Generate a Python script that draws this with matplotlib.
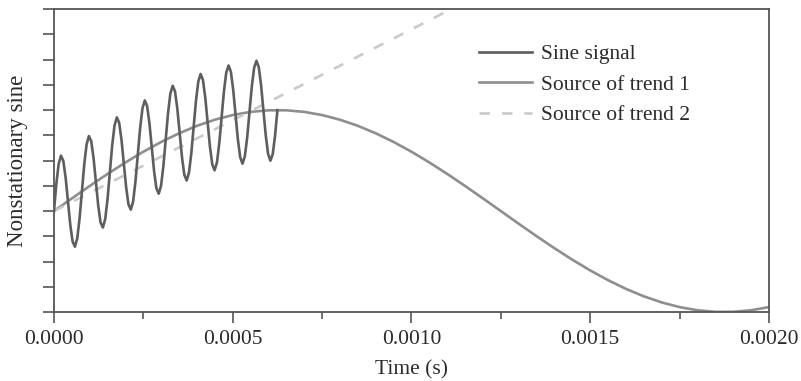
import numpy as np
import matplotlib
matplotlib.use("Agg")
import matplotlib.pyplot as plt
from matplotlib.ticker import MultipleLocator, NullFormatter

# ---- data ----
# Sine signal: 97 samples over 0 .. 0.000625 s
sig_t_start, sig_t_end = 0.0, 0.000625
sine_signal = [
    0.000, 0.266, 0.466, 0.549, 0.498, 0.332, 0.098, -0.136, -0.302, -0.353, -0.270, -0.071,
    0.195, 0.461, 0.660, 0.743, 0.692, 0.525, 0.290, 0.056, -0.112, -0.163, -0.081, 0.118,
    0.383, 0.648, 0.846, 0.928, 0.875, 0.707, 0.471, 0.236, 0.067, 0.014, 0.095, 0.292,
    0.556, 0.819, 1.015, 1.096, 1.042, 0.872, 0.634, 0.397, 0.226, 0.172, 0.251, 0.445,
    0.707, 0.969, 1.163, 1.241, 1.185, 1.013, 0.773, 0.533, 0.360, 0.303, 0.380, 0.572,
    0.831, 1.090, 1.282, 1.358, 1.299, 1.124, 0.882, 0.640, 0.464, 0.404, 0.478, 0.667,
    0.924, 1.180, 1.369, 1.442, 1.380, 1.202, 0.957, 0.712, 0.533, 0.470, 0.541, 0.727,
    0.981, 1.234, 1.420, 1.489, 1.424, 1.243, 0.995, 0.747, 0.565, 0.499, 0.566, 0.750,
    1.000,
]

# Source of trend 1: 41 samples over 0 .. 0.002 s
tr1_t_start, tr1_t_end = 0.0, 0.002
trend1 = [
    0.0, 0.1253, 0.2487, 0.3681, 0.4818, 0.5878, 0.6845, 0.7705, 0.8443, 0.9048,
    0.9511, 0.9823, 0.9980, 0.9980, 0.9823, 0.9511, 0.9048, 0.8443, 0.7705, 0.6845,
    0.5878, 0.4818, 0.3681, 0.2487, 0.1253, 0.0, -0.1253, -0.2487, -0.3681, -0.4818,
    -0.5878, -0.6845, -0.7705, -0.8443, -0.9048, -0.9511, -0.9823, -0.9980, -0.9980,
    -0.9823, -0.9511,
]

# Source of trend 2: straight line
trend2_t = [0.0, 0.002]
trend2 = [0.0, 3.6]

labels = ["Sine signal", "Source of trend 1", "Source of trend 2"]
x_ticks = [0.0, 0.0005, 0.0010, 0.0015, 0.0020]
x_ticklabels = ["0.0000", "0.0005", "0.0010", "0.0015", "0.0020"]

sig_t = np.linspace(sig_t_start, sig_t_end, len(sine_signal))
tr1_t = np.linspace(tr1_t_start, tr1_t_end, len(trend1))

# ---- figure ----
plt.rcParams['font.family'] = ['Liberation Serif', 'DejaVu Serif']
fig = plt.figure(figsize=(8.01, 3.81), dpi=100)
ax = fig.add_axes([0.0674, 0.181, 0.8926, 0.795])

text_c = '#2b2b2b'
spine_c = '#555555'
fs = 15.5

ax.plot(sig_t, sine_signal, color='#5e5e5e', lw=1.9, label=labels[0], zorder=3)
ax.plot(tr1_t, trend1, color='#8e8e8e', lw=1.9, label=labels[1], zorder=2)
ax.plot(trend2_t, trend2, color='#cacaca', lw=1.9, ls=(0, (4, 4.5)), label=labels[2], zorder=2.5)

ax.set_xlim(0, 0.002)
ax.set_ylim(-1, 2)
ax.set_xticks(x_ticks)
ax.set_xticklabels(x_ticklabels)
ax.xaxis.set_minor_locator(MultipleLocator(0.00025))
ax.yaxis.set_major_locator(MultipleLocator(0.25))
ax.yaxis.set_major_formatter(NullFormatter())

ax.tick_params(axis='x', which='major', direction='out', length=8, width=1.2,
               colors=spine_c, labelcolor=text_c, labelsize=fs, pad=5)
ax.tick_params(axis='x', which='minor', direction='out', length=5, width=1.2, colors=spine_c)
ax.tick_params(axis='y', which='major', direction='out', length=8, width=1.2, colors=spine_c)

for s in ax.spines.values():
    s.set_color(spine_c)
    s.set_linewidth(1.3)

ax.set_xlabel("Time (s)", fontsize=fs, color=text_c, labelpad=8)
ax.set_ylabel("Nonstationary sine", fontsize=16.5, color=text_c, labelpad=7)

leg = ax.legend(loc='upper left', bbox_to_anchor=(0.568, 0.949), frameon=False,
                fontsize=fs, handlelength=2.45, handletextpad=0.42, labelspacing=0.49,
                labelcolor=text_c)

fig.savefig("out.png", dpi=100)
